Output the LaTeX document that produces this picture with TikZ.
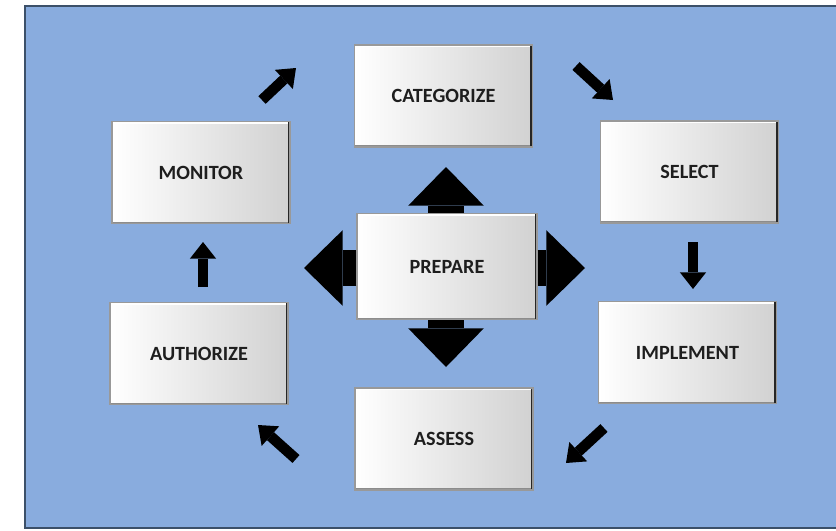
\documentclass[tikz,border=0pt]{standalone}
\usepackage{fontspec}
\setmainfont{Carlito}
\usetikzlibrary{arrows.meta}
\definecolor{bgblue}{RGB}{137,172,222}
\definecolor{frameline}{RGB}{60,80,105}
\definecolor{boxtext}{RGB}{30,30,30}

\begin{document}
\begin{tikzpicture}[x=0.02cm, y=-0.02cm,
    stagebox/.style={rectangle, minimum width=3.56cm, minimum height=2.04cm, inner sep=0pt,
        left color=white, right color=black!18, draw=black!40, line width=0.6pt,
        font=\bfseries\fontsize{11.5}{13}\selectfont, text=boxtext,
        path picture={
            \draw[white, line width=2.4pt] (path picture bounding box.north west) -- (path picture bounding box.north east);
            \draw[black!45, line width=1.8pt] (path picture bounding box.south west) -- (path picture bounding box.south east);
            \draw[black!85, line width=2.4pt] (path picture bounding box.north east) -- (path picture bounding box.south east);
        }},
    bigarrow/.style={line width=21pt, -{Triangle[length=22pt,width=43pt,line width=0pt]}},
    smallarrow/.style={line width=6pt, -{Triangle[length=9.5pt,width=15pt,line width=0pt]}}]
                \useasboundingbox (0,0) rectangle (836,531);
                \fill[white] (0,0) rectangle (836,531);
                \fill[bgblue] (25,6) rectangle (836,528);
                \draw[frameline, line width=1pt] (836,6) -- (25,6) -- (25,528) -- (836,528);

                \node[stagebox] (categorize) at (443.5,96) {CATEGORIZE};
                \node[stagebox] (monitor) at (201,172.5) {MONITOR};
                \node[stagebox] (select) at (689.5,172) {SELECT};
                \node[stagebox, minimum width=3.6cm, minimum height=2.12cm] (prepare) at (447,266.5) {PREPARE};
                \node[stagebox] (authorize) at (199,353.5) {AUTHORIZE};
                \node[stagebox] (implement) at (687.5,352.5) {IMPLEMENT};
                \node[stagebox] (assess) at (444,439) {ASSESS};

                \coordinate (prepup) at (446,167);
                \coordinate (prepdown) at (446,367);
                \coordinate (prepleft) at (304,268);
                \coordinate (prepright) at (585,268);
                \draw[bigarrow] (prepare.north -| prepup) -- (prepup);
                \draw[bigarrow] (prepare.south -| prepdown) -- (prepdown);
                \draw[bigarrow] (prepare.west |- prepleft) -- (prepleft);
                \draw[bigarrow] (prepare.east |- prepright) -- (prepright);

                \coordinate (nea) at (262,100);
                \coordinate (neb) at (296,68);
                \coordinate (sea) at (576,66);
                \coordinate (seb) at (613,100);
                \coordinate (dna) at (693,242);
                \coordinate (dnb) at (693,289);
                \coordinate (swa) at (604,428);
                \coordinate (swb) at (566,463);
                \coordinate (nwa) at (296,459);
                \coordinate (nwb) at (258,425);
                \coordinate (upa) at (203,287);
                \coordinate (upb) at (203,242);
                \draw[smallarrow] (nea) -- (neb);
                \draw[smallarrow] (sea) -- (seb);
                \draw[smallarrow] (dna) -- (dnb);
                \draw[smallarrow] (swa) -- (swb);
                \draw[smallarrow] (nwa) -- (nwb);
                \draw[smallarrow] (upa) -- (upb);
\end{tikzpicture}
\end{document}
